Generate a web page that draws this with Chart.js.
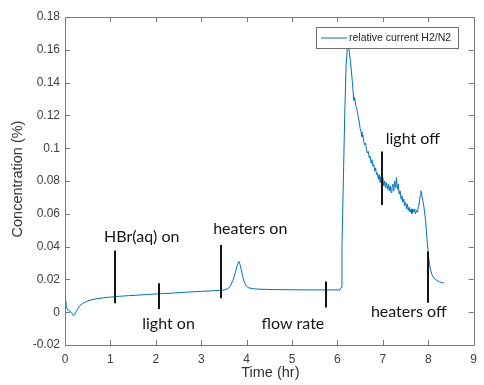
<!DOCTYPE html>
<html><head><meta charset="utf-8">
<script src="https://cdn.jsdelivr.net/npm/chart.js@4.4.1/dist/chart.umd.min.js"></script>
<style>html,body{margin:0;padding:0;background:#fff}#wrap{width:484px;height:385px}</style>
</head><body><div id="wrap"><canvas id="c" width="484" height="385"></canvas></div>
<script>
const seriesLabel = 'relative current H2/N2';
const timeHr = [
0.00,0.02,0.05,0.08,0.12,0.16,0.19,0.21,0.24,0.28,
0.33,0.40,0.48,0.58,0.70,0.85,1.00,1.20,1.40,1.60,
1.80,2.00,2.20,2.40,2.60,2.80,3.00,3.20,3.40,3.50,
3.60,3.65,3.70,3.75,3.80,3.83,3.85,3.88,3.92,3.96,
4.00,4.05,4.15,4.30,4.60,5.00,5.40,5.80,6.05,6.08,
6.10,6.13,6.16,6.19,6.22,6.25,6.29,6.33,
6.36,6.38,6.40,6.42,6.44,6.46,6.48,6.50,6.52,6.54,
6.56,6.58,6.60,6.62,6.64,6.66,6.68,6.70,6.72,6.74,
6.76,6.78,6.80,6.82,6.84,6.86,6.88,6.90,6.92,6.94,
6.96,6.98,7.00,7.02,7.04,7.06,7.08,7.10,7.12,7.14,
7.16,7.18,7.20,7.22,7.24,7.26,7.28,7.30,7.32,7.34,
7.36,7.38,7.40,7.42,7.44,7.46,7.48,7.50,7.52,7.54,
7.56,7.58,7.60,7.62,7.64,7.66,7.68,7.70,7.72,7.74,
7.76,7.78,7.80,7.82,7.84,7.86,7.88,7.90,7.92,7.94,
7.96,7.98,
8.01,8.04,8.08,8.12,8.18,8.25,8.30,8.35];
const concPct = [
0.0065,0.004,0.002,0.001,0.0005,-0.001,-0.0022,-0.0015,0.0,0.002,
0.004,0.0055,0.0066,0.0075,0.0082,0.0088,0.0092,0.0097,0.0101,0.0104,
0.0108,0.0111,0.0114,0.0117,0.0121,0.0124,0.0127,0.013,0.0133,0.0135,
0.0145,0.0165,0.0195,0.024,0.029,0.031,0.0295,0.026,0.021,0.0175,
0.0158,0.0148,0.0143,0.014,0.0138,0.0137,0.0136,0.0136,0.0136,0.015,
0.04,0.08,0.12,0.15,0.162,0.161,0.152,0.14,
0.129,0.131,0.126,0.125,0.122,0.119,0.116,0.112,0.110,0.107,
0.108,0.104,0.102,0.103,0.099,0.097,0.098,0.094,0.095,0.091,
0.093,0.089,0.090,0.086,0.088,0.084,0.085,0.081,0.084,0.079,
0.083,0.078,0.082,0.077,0.080,0.076,0.079,0.075,0.078,0.074,
0.077,0.073,0.076,0.078,0.074,0.080,0.076,0.082,0.075,0.078,
0.072,0.074,0.069,0.071,0.067,0.069,0.065,0.067,0.063,0.066,
0.062,0.064,0.061,0.063,0.060,0.063,0.061,0.063,0.060,0.062,
0.061,0.064,0.066,0.071,0.074,0.071,0.068,0.065,0.061,0.056,
0.049,0.042,
0.033,0.027,0.023,0.021,0.0195,0.0185,0.018,0.0178];

const xTickValues = [0,1,2,3,4,5,6,7,8,9];
const xTickLabels = ['0','1','2','3','4','5','6','7','8','9'];
const yTickValues = [-0.02,0,0.02,0.04,0.06,0.08,0.1,0.12,0.14,0.16,0.18];
const yTickLabels = ['-0.02','0','0.02','0.04','0.06','0.08','0.1','0.12','0.14','0.16','0.18'];

const eventLabels = ['HBr(aq) on','light on','heaters on','flow rate','light off','heaters off'];
const eventTime   = [1.10, 2.07, 3.44, 5.75, 6.99, 8.00];
const eventLow    = [0.0055, 0.002, 0.0085, 0.0028, 0.0654, 0.0057];
const eventHigh   = [0.0376, 0.0177, 0.041, 0.0187, 0.098, 0.037];
const labelTime   = [1.69, 2.28, 4.08, 5.02, 7.66, 7.57];
const labelConc   = [0.0459, -0.0068, 0.0506, -0.0068, 0.106, 0.0003];

const xTitle = 'Time (hr)';
const yTitle = 'Concentration (%)';

const points = timeHr.map((t,i)=>({x:t,y:concPct[i]}));

const framePlugin = {
  id:'frame',
  afterDatasetsDraw(chart){
    const ctx = chart.ctx, xs = chart.scales.x, ys = chart.scales.y;
    ctx.save();
    ctx.strokeStyle = '#151515';
    ctx.lineWidth = 2;
    for (let i=0;i<eventTime.length;i++){
      const px = Math.round(xs.getPixelForValue(eventTime[i]));
      ctx.beginPath();
      ctx.moveTo(px, ys.getPixelForValue(eventLow[i]));
      ctx.lineTo(px, ys.getPixelForValue(eventHigh[i]));
      ctx.stroke();
    }
    ctx.fillStyle = '#151515';
    ctx.font = '16px Lato';
    ctx.textAlign = 'center';
    ctx.textBaseline = 'middle';
    for (let i=0;i<eventLabels.length;i++){
      ctx.fillText(eventLabels[i], xs.getPixelForValue(labelTime[i]), ys.getPixelForValue(labelConc[i]));
    }
    ctx.restore();
  },
  afterDraw(chart){
    const ctx = chart.ctx, xs = chart.scales.x, ys = chart.scales.y;
    const a = chart.chartArea;
    ctx.save();
    ctx.strokeStyle = '#7a7a7a';
    ctx.lineWidth = 1;
    ctx.beginPath();
    ctx.rect(Math.round(a.left)+0.5, Math.round(a.top)+0.5, Math.round(a.right-a.left), Math.round(a.bottom-a.top));
    ctx.stroke();
    const tl = 5;
    ctx.beginPath();
    xTickValues.forEach(v=>{
      const px = Math.round(xs.getPixelForValue(v))+0.5;
      ctx.moveTo(px, a.bottom); ctx.lineTo(px, a.bottom-tl);
      ctx.moveTo(px, a.top); ctx.lineTo(px, a.top+tl);
    });
    yTickValues.forEach(v=>{
      const py = Math.round(ys.getPixelForValue(v))+0.5;
      ctx.moveTo(a.left, py); ctx.lineTo(a.left+tl, py);
      ctx.moveTo(a.right, py); ctx.lineTo(a.right-tl, py);
    });
    ctx.stroke();
    // axis titles
    ctx.fillStyle = '#333';
    ctx.font = '14.5px "Liberation Sans", Arial, sans-serif';
    ctx.textAlign = 'center';
    ctx.textBaseline = 'middle';
    ctx.fillText(xTitle, (a.left+a.right)/2 + 1, 373);
    ctx.save();
    ctx.translate(18, 179);
    ctx.rotate(-Math.PI/2);
    ctx.fillText(yTitle, 0, 0);
    ctx.restore();
    // legend
    const lx = 316, ly = 27, lw = 142, lh = 21;
    ctx.fillStyle = '#fff';
    ctx.fillRect(lx, ly, lw, lh);
    ctx.strokeStyle = '#6e6e6e';
    ctx.strokeRect(lx+0.5, ly+0.5, lw, lh);
    ctx.strokeStyle = '#0072BD';
    ctx.beginPath();
    ctx.moveTo(321, ly+lh/2+0.5); ctx.lineTo(347, ly+lh/2+0.5);
    ctx.stroke();
    ctx.fillStyle = '#262626';
    ctx.font = '10.5px "Liberation Sans", Arial, sans-serif';
    ctx.textAlign = 'left';
    ctx.fillText(seriesLabel, 349, ly+lh/2+1);
    ctx.restore();
  }
};

new Chart(document.getElementById('c'), {
  type:'line',
  data:{datasets:[{label:seriesLabel,data:points,borderColor:'#0072BD',borderWidth:1,pointRadius:0,tension:0,fill:false}]},
  options:{
    responsive:false, animation:false, maintainAspectRatio:false,
    layout:{padding:{top:17,right:4,left:0,bottom:0}},
    plugins:{legend:{display:false},tooltip:{enabled:false}},
    scales:{
      x:{type:'linear',min:0,max:9,
        afterFit(s){s.height=40;},
        afterBuildTicks(s){s.ticks = xTickValues.map(v=>({value:v}));},
        grid:{display:false,drawTicks:false},border:{display:false},
        ticks:{padding:7,color:'#404040',font:{family:'"Liberation Sans", Arial',size:12},maxRotation:0,autoSkip:false,
          callback:(v,i)=>xTickLabels[i]}},
      y:{type:'linear',min:-0.02,max:0.18,
        afterFit(s){s.width=65;},
        afterBuildTicks(s){s.ticks = yTickValues.map(v=>({value:v}));},
        grid:{display:false,drawTicks:false},border:{display:false},
        ticks:{padding:5,color:'#404040',font:{family:'"Liberation Sans", Arial',size:12},autoSkip:false,
          callback:(v,i)=>yTickLabels[i]}}
    }
  },
  plugins:[framePlugin]
});
</script></body></html>
